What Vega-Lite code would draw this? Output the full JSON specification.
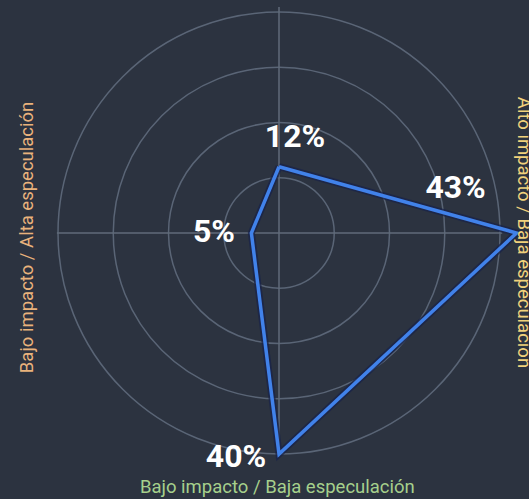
{
  "$schema": "https://vega.github.io/schema/vega-lite/v6.json",
  "width": 529,
  "height": 499,
  "padding": 0,
  "autosize": "none",
  "background": "#2c3340",
  "config": {"view": {"stroke": null}},
  "datasets": {
    "anillos": [{"r": 10}, {"r": 20}, {"r": 30}, {"r": 40}],
    "radar": [
      {"orden": 1, "eje": "Alto impacto / Alta especulación", "pct": 0.12, "h": 0, "v": 12},
      {"orden": 2, "eje": "Alto impacto / Baja especulación", "pct": 0.43, "h": 43, "v": 0},
      {"orden": 3, "eje": "Bajo impacto / Baja especulación", "pct": 0.40, "h": 0, "v": -40},
      {"orden": 4, "eje": "Bajo impacto / Alta especulación", "pct": 0.05, "h": -5, "v": 0},
      {"orden": 5, "eje": "cierre", "pct": 0.12, "h": 0, "v": 12}
    ]
  },
  "layer": [
    {
      "data": {"name": "anillos"},
      "mark": {"type": "point", "shape": "circle", "filled": false, "stroke": "#5a6576", "strokeWidth": 1.5, "opacity": 1},
      "encoding": {
        "x": {"datum": 0, "type": "quantitative", "scale": {"domain": [-50.5, 45.25], "nice": false, "zero": false}, "axis": null},
        "y": {"datum": 0, "type": "quantitative", "scale": {"domain": [-48.14, 42.17], "nice": false, "zero": false}, "axis": null},
        "size": {"field": "r", "type": "quantitative", "scale": {"type": "pow", "exponent": 2, "domain": [0, 40], "range": [0, 195364]}, "legend": null}
      }
    },
    {
      "data": {"values": [{}]},
      "mark": {"type": "rule", "stroke": "#606b7a", "strokeWidth": 1.5},
      "encoding": {
        "x": {"datum": 0, "type": "quantitative", "scale": {"domain": [-50.5, 45.25], "nice": false, "zero": false}, "axis": null},
        "y": {"datum": -40.5, "type": "quantitative", "scale": {"domain": [-48.14, 42.17], "nice": false, "zero": false}, "axis": null},
        "y2": {"datum": 40.9}
      }
    },
    {
      "data": {"values": [{}]},
      "mark": {"type": "rule", "stroke": "#606b7a", "strokeWidth": 1.5},
      "encoding": {
        "x": {"datum": -40.2, "type": "quantitative", "scale": {"domain": [-50.5, 45.25], "nice": false, "zero": false}, "axis": null},
        "x2": {"datum": 40.4},
        "y": {"datum": 0, "type": "quantitative", "scale": {"domain": [-48.14, 42.17], "nice": false, "zero": false}, "axis": null}
      }
    },
    {
      "data": {"name": "radar"},
      "mark": {"type": "line", "stroke": "#18234a", "strokeWidth": 7, "opacity": 0.75, "strokeJoin": "miter"},
      "encoding": {
        "x": {"field": "h", "type": "quantitative", "scale": {"domain": [-50.5, 45.25], "nice": false, "zero": false}, "axis": null},
        "y": {"field": "v", "type": "quantitative", "scale": {"domain": [-48.14, 42.17], "nice": false, "zero": false}, "axis": null},
        "order": {"field": "orden", "type": "quantitative"}
      }
    },
    {
      "data": {"name": "radar"},
      "mark": {"type": "line", "stroke": "#4182ea", "strokeWidth": 3.5, "strokeJoin": "miter"},
      "encoding": {
        "x": {"field": "h", "type": "quantitative", "scale": {"domain": [-50.5, 45.25], "nice": false, "zero": false}, "axis": null},
        "y": {"field": "v", "type": "quantitative", "scale": {"domain": [-48.14, 42.17], "nice": false, "zero": false}, "axis": null},
        "order": {"field": "orden", "type": "quantitative"}
      }
    },
    {
      "data": {"name": "radar"},
      "transform": [{"filter": "datum.orden == 1"}],
      "mark": {"type": "text", "font": "Roboto", "fontWeight": "bold", "fontSize": 32, "color": "#ffffff", "align": "center", "baseline": "alphabetic", "dx": 16, "dy": -20},
      "encoding": {
        "x": {"field": "h", "type": "quantitative", "scale": {"domain": [-50.5, 45.25], "nice": false, "zero": false}, "axis": null},
        "y": {"field": "v", "type": "quantitative", "scale": {"domain": [-48.14, 42.17], "nice": false, "zero": false}, "axis": null},
        "text": {"field": "pct", "type": "quantitative", "format": ".0%"}
      }
    },
    {
      "data": {"name": "radar"},
      "transform": [{"filter": "datum.orden == 2"}],
      "mark": {"type": "text", "font": "Roboto", "fontWeight": "bold", "fontSize": 32, "color": "#ffffff", "align": "center", "baseline": "alphabetic", "dx": -61, "dy": -35},
      "encoding": {
        "x": {"field": "h", "type": "quantitative", "scale": {"domain": [-50.5, 45.25], "nice": false, "zero": false}, "axis": null},
        "y": {"field": "v", "type": "quantitative", "scale": {"domain": [-48.14, 42.17], "nice": false, "zero": false}, "axis": null},
        "text": {"field": "pct", "type": "quantitative", "format": ".0%"}
      }
    },
    {
      "data": {"name": "radar"},
      "transform": [{"filter": "datum.orden == 3"}],
      "mark": {"type": "text", "font": "Roboto", "fontWeight": "bold", "fontSize": 32, "color": "#ffffff", "align": "center", "baseline": "alphabetic", "dx": -43, "dy": 13},
      "encoding": {
        "x": {"field": "h", "type": "quantitative", "scale": {"domain": [-50.5, 45.25], "nice": false, "zero": false}, "axis": null},
        "y": {"field": "v", "type": "quantitative", "scale": {"domain": [-48.14, 42.17], "nice": false, "zero": false}, "axis": null},
        "text": {"field": "pct", "type": "quantitative", "format": ".0%"}
      }
    },
    {
      "data": {"name": "radar"},
      "transform": [{"filter": "datum.orden == 4"}],
      "mark": {"type": "text", "font": "Roboto", "fontWeight": "bold", "fontSize": 32, "color": "#ffffff", "align": "center", "baseline": "alphabetic", "dx": -37.5, "dy": 9},
      "encoding": {
        "x": {"field": "h", "type": "quantitative", "scale": {"domain": [-50.5, 45.25], "nice": false, "zero": false}, "axis": null},
        "y": {"field": "v", "type": "quantitative", "scale": {"domain": [-48.14, 42.17], "nice": false, "zero": false}, "axis": null},
        "text": {"field": "pct", "type": "quantitative", "format": ".0%"}
      }
    },
    {
      "data": {"values": [{"texto": "Bajo impacto / Baja especulación"}]},
      "mark": {"type": "text", "font": "Roboto", "fontSize": 18.5, "color": "#a6d08c", "align": "center", "baseline": "alphabetic"},
      "encoding": {
        "x": {"datum": -0.3, "type": "quantitative", "scale": {"domain": [-50.5, 45.25], "nice": false, "zero": false}, "axis": null},
        "y": {"datum": -47.06, "type": "quantitative", "scale": {"domain": [-48.14, 42.17], "nice": false, "zero": false}, "axis": null},
        "text": {"field": "texto"}
      }
    },
    {
      "data": {"values": [{"texto": "Bajo impacto / Alta especulación"}]},
      "mark": {"type": "text", "font": "Roboto", "fontSize": 18.5, "color": "#e9b27c", "align": "center", "baseline": "alphabetic", "angle": 270},
      "encoding": {
        "x": {"datum": -44.5, "type": "quantitative", "scale": {"domain": [-50.5, 45.25], "nice": false, "zero": false}, "axis": null},
        "y": {"datum": -0.8, "type": "quantitative", "scale": {"domain": [-48.14, 42.17], "nice": false, "zero": false}, "axis": null},
        "text": {"field": "texto"}
      }
    },
    {
      "data": {"values": [{"texto": "Alto impacto / Baja especulación"}]},
      "mark": {"type": "text", "font": "Roboto", "fontSize": 18.5, "color": "#f1d27c", "align": "center", "baseline": "alphabetic", "angle": 90},
      "encoding": {
        "x": {"datum": 43.26, "type": "quantitative", "scale": {"domain": [-50.5, 45.25], "nice": false, "zero": false}, "axis": null},
        "y": {"datum": 0.1, "type": "quantitative", "scale": {"domain": [-48.14, 42.17], "nice": false, "zero": false}, "axis": null},
        "text": {"field": "texto"}
      }
    }
  ]
}
